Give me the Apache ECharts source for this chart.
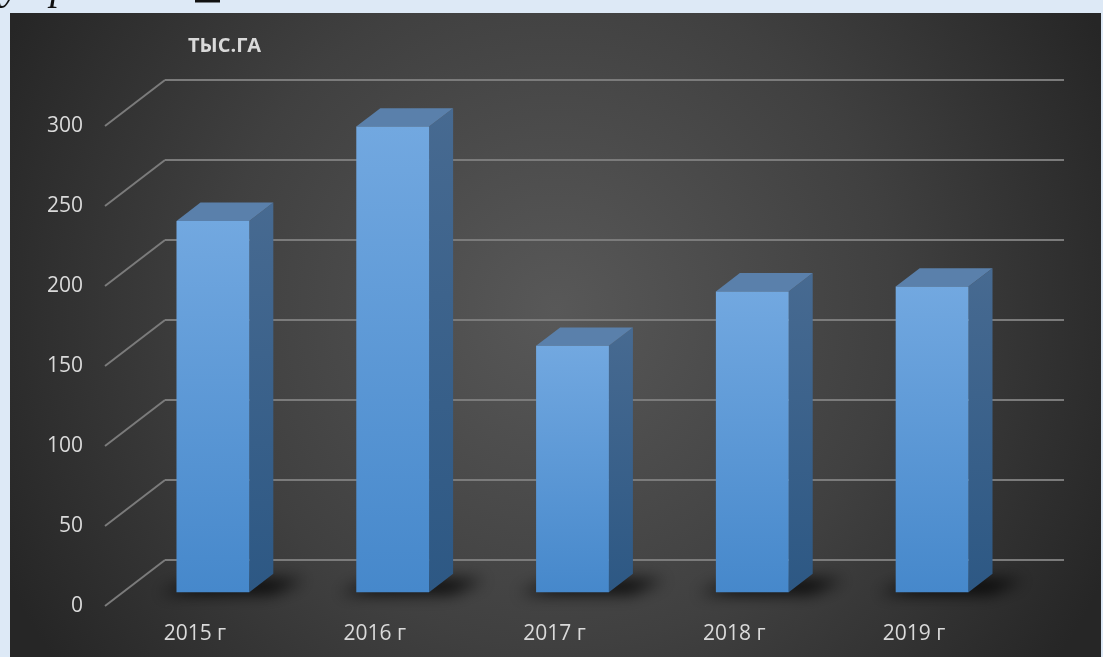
<!DOCTYPE html>
<html>
<head>
<meta charset="utf-8">
<script src="https://cdn.jsdelivr.net/npm/echarts@6/dist/echarts.min.js"></script>
<style>
html,body{margin:0;padding:0;background:#dde9f6;}
#c{width:1103px;height:657px;}
</style>
</head>
<body>
<div id="c"></div>
<script>
var categories = ['2015 г', '2016 г', '2017 г', '2018 г', '2019 г'];
var values = [232, 291, 154, 188, 191];
var yTicks = [0, 50, 100, 150, 200, 250, 300];
var unitTitle = 'ТЫС.ГА';

var DX = 60, DY = 46; // depth of the 3D floor
var FONT = 'Open Sans';
var OFF = 3000;

var chart = echarts.init(document.getElementById('c'));

function barItem(params, api) {
  var i = api.value(0), v = api.value(1);
  var top = api.coord([i, v]);
  var base = api.coord([i, 0]);
  var band = api.size([1, 0])[0];
  var w = band * 0.405;
  var fx = 0.3 * DX, fy = 0.3 * DY;
  var sx = 0.4 * DX, sy = 0.4 * DY;
  var x0 = top[0] + fx - w / 2, x1 = x0 + w;
  var yT = top[1] - fy, yB = base[1] - fy;
  return {
    type: 'group',
    children: [
      { type: 'polygon', z2: 1,
        shape: { points: [[x0 - 18 - OFF, yB + 1], [x1 + 22 - OFF, yB + 1], [x1 + sx + 32 - OFF, yB - sy + 6], [x0 + sx - OFF, yB - sy + 6]] },
        style: { fill: '#000', shadowBlur: 16, shadowColor: 'rgba(0,0,0,0.95)', shadowOffsetX: OFF, shadowOffsetY: 0 } },
      { type: 'polygon', z2: 3,
        shape: { points: [[x1, yT], [x1 + sx, yT - sy], [x1 + sx, yB - sy], [x1, yB]] },
        style: { fill: new echarts.graphic.LinearGradient(0, 0, 0, 1, [
          { offset: 0, color: '#476a91' }, { offset: 1, color: '#2d5884' }]) } },
      { type: 'polygon', z2: 3,
        shape: { points: [[x0, yT], [x0 + sx, yT - sy], [x1 + sx, yT - sy], [x1, yT]] },
        style: { fill: '#5a80ab' } },
      { type: 'rect', z2: 4,
        shape: { x: x0, y: yT, width: w, height: yB - yT },
        style: { fill: new echarts.graphic.LinearGradient(0, 0, 0, 1, [
          { offset: 0, color: '#72a8e0' }, { offset: 1, color: '#4688cb' }]) } }
    ]
  };
}

function diagItem(params, api) {
  var v = api.value(0);
  var cs = params.coordSys;
  var y = api.coord([0, v])[1];
  return {
    type: 'line',
    shape: { x1: cs.x - DX, y1: y + DY, x2: cs.x, y2: y },
    style: { stroke: '#7b7b7b', lineWidth: 2 }
  };
}

var option = {
  animation: false,
  backgroundColor: 'transparent',
  graphic: [
    { type: 'rect', z: -10, left: 10, top: 13,
      shape: { width: 1091, height: 644 },
      style: { fill: new echarts.graphic.RadialGradient(0.5, 0.46, 0.95, [
        { offset: 0, color: '#585858' }, { offset: 0.55, color: '#404040' }, { offset: 1, color: '#262626' }]) } },
    { type: 'text', z: 10, left: 188, top: 36,
      style: { text: unitTitle, fill: '#d9d9d9', font: 'bold 20px "Open Sans"' } },
    { type: 'text', z: 10, left: 2, top: -32,
      style: { text: 'у', fill: '#111', font: 'italic 40px "Liberation Serif"' } },
    { type: 'text', z: 10, left: 50, top: -32,
      style: { text: 'р', fill: '#111', font: 'italic 40px "Liberation Serif"' } },
    { type: 'rect', z: 10, left: 195, top: 0,
      shape: { width: 25, height: 2.5 }, style: { fill: '#111' } }
  ],
  grid: [
    { left: 105, right: 99, top: 126, bottom: 51 },
    { left: 165, right: 39, top: 80, bottom: 97 }
  ],
  xAxis: [
    { type: 'category', gridIndex: 0, data: categories,
      axisLine: { show: false }, axisTick: { show: false },
      axisLabel: { color: '#dadada', fontFamily: FONT, fontSize: 21, margin: 18 } },
    { type: 'category', gridIndex: 1, data: categories, show: false }
  ],
  yAxis: [
    { type: 'value', gridIndex: 0, min: 0, max: 300, interval: 50,
      axisLine: { show: false }, axisTick: { show: false }, splitLine: { show: false },
      axisLabel: { color: '#dadada', fontFamily: FONT, fontSize: 21, margin: 22 } },
    { type: 'value', gridIndex: 1, min: 0, max: 300, interval: 50,
      axisLine: { show: false }, axisTick: { show: false }, axisLabel: { show: false },
      splitLine: { show: true, lineStyle: { color: '#7b7b7b', width: 2 } } }
  ],
  series: [
    { type: 'custom', xAxisIndex: 1, yAxisIndex: 1, renderItem: diagItem,
      data: yTicks.map(function (t) { return [t]; }), silent: true, z: 1 },
    { type: 'custom', xAxisIndex: 0, yAxisIndex: 0, renderItem: barItem,
      data: values.map(function (v, i) { return [i, v]; }), z: 5 }
  ]
};
chart.setOption(option);
</script>
</body>
</html>
